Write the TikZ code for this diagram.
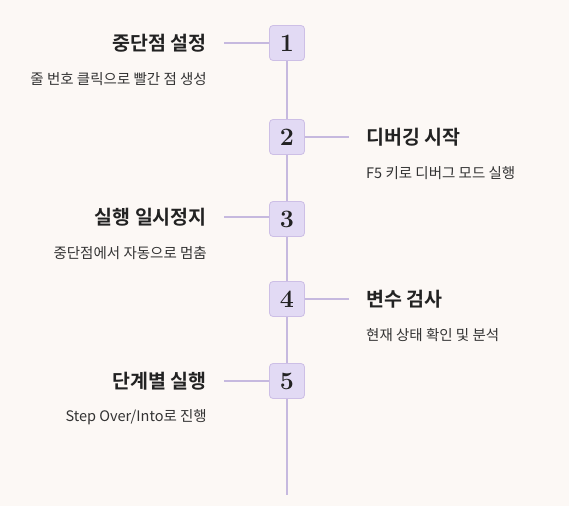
\documentclass[tikz,border=0pt]{standalone}
\usepackage{fontspec}
\newfontfamily\kr{Noto Sans CJK KR}
\newfontfamily\krb{Noto Sans CJK KR Bold}
\definecolor{bg}{HTML}{FCF8F5}
\definecolor{boxfill}{HTML}{E2DAF4}
\definecolor{boxline}{HTML}{CDBFE6}
\definecolor{conn}{HTML}{C6B9DF}
\definecolor{tdark}{HTML}{222222}
\definecolor{tsub}{HTML}{333333}
\tikzset{
  numbox/.style={draw=boxline, fill=boxfill, line width=0.8pt, rounded corners=3.5pt, minimum width=35pt, minimum height=35pt, inner sep=0pt, font=\fontsize{25}{25}\selectfont\bfseries, text=tdark},
  ttl/.style={font=\krb\fontsize{19.5}{19.5}\selectfont, text=tdark, inner sep=0pt},
  sub/.style={font=\kr\fontsize{14.5}{14.5}\selectfont, text=tsub, inner sep=0pt},
  conline/.style={draw=conn, line width=1.3pt}
}
\begin{document}
\begin{tikzpicture}[x=1pt,y=-1pt]
\fill[bg] (0,0) rectangle (569,506);
\useasboundingbox (0,0) rectangle (569,506);
\coordinate (top) at (287,25);
\coordinate (bot) at (287,495);
\draw[conline] (top) -- (bot);
\node[numbox] (n1) at (287,43) {1};
\node[numbox] (n2) at (287,137) {2};
\node[numbox] (n3) at (287,219) {3};
\node[numbox] (n4) at (287,299) {4};
\node[numbox] (n5) at (287,381) {5};
% left items
\node[ttl, anchor=east] (t1) at (207,43) {중단점 설정};
\node[sub, anchor=east] (s1) at (207,79) {줄 번호 클릭으로 빨간 점 생성};
\node[ttl, anchor=east] (t3) at (207,217) {실행 일시정지};
\node[sub, anchor=east] (s3) at (207,253) {중단점에서 자동으로 멈춤};
\node[ttl, anchor=east] (t5) at (207,381) {단계별 실행};
\node[sub, anchor=east] (s5) at (207,417) {Step Over/Into로 진행};
% right items
\node[ttl, anchor=west] (t2) at (366,137) {디버깅 시작};
\node[sub, anchor=west] (s2) at (366,173) {F5 키로 디버그 모드 실행};
\node[ttl, anchor=west] (t4) at (366,299) {변수 검사};
\node[sub, anchor=west] (s4) at (366,335) {현재 상태 확인 및 분석};
% connectors
\coordinate (c1) at (224,43);
\coordinate (c3) at (224,217);
\coordinate (c5) at (224,381);
\coordinate (c2) at (349,137);
\coordinate (c4) at (349,299);
\draw[conline] (c1) -- (n1.west);
\draw[conline] (c3) -- (c3 -| n3.west);
\draw[conline] (c5) -- (n5.west);
\draw[conline] (n2.east) -- (c2);
\draw[conline] (n4.east) -- (c4);
\end{tikzpicture}
\end{document}
